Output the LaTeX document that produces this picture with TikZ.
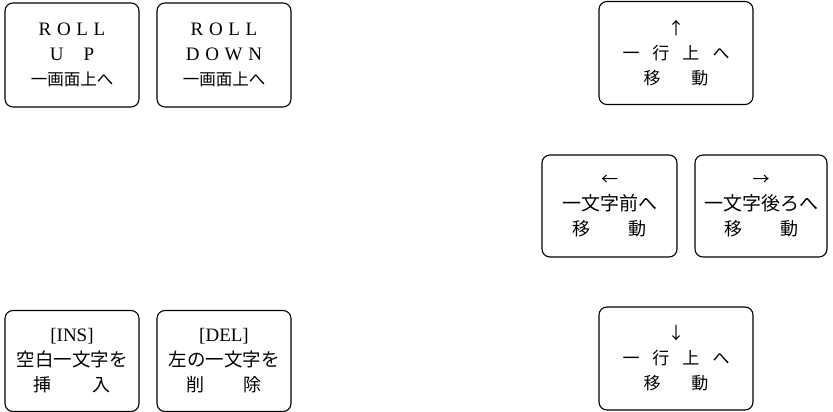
\documentclass[tikz,border=0pt]{standalone}
\usepackage{fontspec}
\newfontfamily\cjk{Noto Sans CJK JP}
\newfontfamily\lat[LetterSpace=30]{Liberation Serif}
\newfontfamily\latn{Liberation Serif}
\newcommand{\jtxt}[2][18]{{\cjk\fontsize{#1}{25}\selectfont #2}}
\newcommand{\ltxt}[1]{{\lat\fontsize{19}{25}\selectfont #1}}
\begin{document}
\begin{tikzpicture}[x=1pt,y=-1pt]
\tikzset{
  keybox/.style={draw=black, line width=1.1pt, rounded corners=8pt, align=center,
    inner sep=0pt, font=\fontsize{16}{25}\selectfont},
}
\useasboundingbox (0,0) rectangle (833,412);
\node[keybox, minimum width=134pt, minimum height=104pt] (rollup) at (72,55)
  {\ltxt{ROLL}\\\ltxt{U\hspace{20pt}P}\\\jtxt[16.5]{一画面上へ}};
\node[keybox, minimum width=134pt, minimum height=104pt] (rolldown) at (224,55)
  {\ltxt{ROLL}\\\ltxt{DOWN}\\\jtxt[16.5]{一画面上へ}};
\node[keybox, minimum width=154pt, minimum height=103pt] (up) at (676,53)
  {\jtxt[17]{↑}\\\jtxt[17]{一\hspace{13pt}行\hspace{13pt}上\hspace{13pt}へ}\\\jtxt[17]{移\hspace{31pt}動}};
\node[keybox, minimum width=135pt, minimum height=102pt] (left) at (609.5,206)
  {\jtxt[17]{←}\\\jtxt[19]{一文字前へ}\\\jtxt[18]{移\hspace{38pt}動}};
\node[keybox, minimum width=132pt, minimum height=102pt] (right) at (761,206)
  {\jtxt[17]{→}\\\jtxt[19]{一文字後ろへ}\\\jtxt[18]{移\hspace{38pt}動}};
\node[keybox, minimum width=154pt, minimum height=103pt] (down) at (676,358.5)
  {\jtxt[17]{↓}\\\jtxt[17]{一\hspace{13pt}行\hspace{13pt}上\hspace{13pt}へ}\\\jtxt[17]{移\hspace{31pt}動}};
\node[keybox, minimum width=134pt, minimum height=101pt] (ins) at (72,361)
  {{\latn\fontsize{19}{25}\selectfont [INS]}\\\jtxt[18.5]{空白一文字を}\\\jtxt[18]{挿\hspace{42pt}入}};
\node[keybox, minimum width=134pt, minimum height=101pt] (del) at (224,361)
  {{\latn\fontsize{19}{25}\selectfont [DEL]}\\\jtxt[18.5]{左の一文字を}\\\jtxt[18]{削\hspace{40pt}除}};
\end{tikzpicture}
\end{document}
